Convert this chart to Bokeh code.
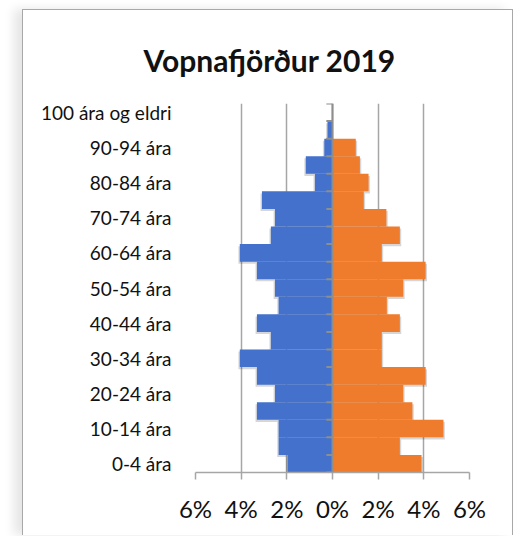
from bokeh.plotting import figure
from bokeh.models import Range1d, FixedTicker, Span, ColumnDataSource
from bokeh.embed import file_html
from bokeh.resources import INLINE

categories = ["0-4 ára", "5-9 ára", "10-14 ára", "15-19 ára", "20-24 ára", "25-29 ára",
              "30-34 ára", "35-39 ára", "40-44 ára", "45-49 ára", "50-54 ára", "55-59 ára",
              "60-64 ára", "65-69 ára", "70-74 ára", "75-79 ára", "80-84 ára", "85-89 ára",
              "90-94 ára", "95-99 ára", "100 ára og eldri"]
karlar = [1.97, 2.36, 2.36, 3.31, 2.52, 3.31, 4.06, 2.70, 3.31, 2.36, 2.52, 3.31,
          4.06, 2.70, 2.52, 3.09, 0.77, 1.17, 0.36, 0.22, 0.0]
konur = [3.90, 2.95, 4.86, 3.50, 3.10, 4.08, 2.16, 2.16, 2.95, 2.38, 3.10, 4.08,
         2.16, 2.95, 2.36, 1.37, 1.58, 1.20, 1.02, 0.0, 0.0]
x_ticks = [-6, -4, -2, 0, 2, 4, 6]
x_tick_labels = ["6%", "4%", "2%", "0%", "2%", "4%", "6%"]
title_text = "Vopnafjörður 2019"

FONT = "Lato"
BLUE = "#4371CB"
ORANGE = "#EF7B2C"
GRID = "#A6A6A6"

n = len(categories)
idx = list(range(n))

p = figure(width=491, height=526, output_backend="svg", toolbar_location=None,
           x_range=Range1d(-6, 6), y_range=Range1d(-0.5, n - 0.5),
           min_border_left=172, min_border_right=45, min_border_top=93, min_border_bottom=64,
           title=title_text)
p.margin = (9, 0, 0, 22)
p.styles = {"border-top": "1px solid #A8A8A8", "border-left": "1px solid #A8A8A8",
            "border-right": "1px solid #A8A8A8",
            "box-shadow": "-8px 0px 10px rgba(0,0,0,0.10)"}
p.outline_line_color = None
p.background_fill_color = "white"
p.border_fill_color = "white"

p.title.text_font = FONT
p.title.text_font_style = "bold"
p.title.text_font_size = "30px"
p.title.text_color = "#111111"
p.title.align = "left"
p.title.offset = -52
p.title.standoff = 52

src = ColumnDataSource(dict(y=idx, m_left=[-v for v in karlar], f_right=konur,
                            ys=[i - 0.12 for i in idx],
                            ms_left=[-v - 0.06 if v > 0 else 0 for v in karlar],
                            fs_right=[v + 0.06 if v > 0 else 0 for v in konur]))

# soft shadows
p.hbar(y="ys", left="ms_left", right=0, height=1.0, source=src,
       fill_color="#000000", fill_alpha=0.16, line_color=None)
p.hbar(y="ys", left=0, right="fs_right", height=1.0, source=src,
       fill_color="#000000", fill_alpha=0.16, line_color=None)

p.hbar(y="y", left="m_left", right=0, height=1.0, source=src,
       fill_color=BLUE, line_color=None)
p.hbar(y="y", left=0, right="f_right", height=1.0, source=src,
       fill_color=ORANGE, line_color=None)

# zero line and category boundary ticks
p.add_layout(Span(location=0, dimension="height", line_color="#8E8E8E", line_width=2))
bounds = [i - 0.5 for i in range(n + 1)]
p.segment(x0=[-0.27] * len(bounds), x1=[0] * len(bounds), y0=bounds, y1=bounds,
          line_color="#8E8E8E", line_width=2)

# x axis
p.xaxis.ticker = FixedTicker(ticks=x_ticks)
p.xaxis.major_label_overrides = {t: l for t, l in zip(x_ticks, x_tick_labels)}
p.xaxis.major_label_text_font = FONT
p.xaxis.major_label_text_font_size = "24px"
p.xaxis.major_label_text_color = "#111111"
p.xaxis.axis_line_color = GRID
p.xaxis.axis_line_width = 1.5
p.xaxis.major_tick_line_color = GRID
p.xaxis.major_tick_line_width = 1.5
p.xaxis.major_tick_in = 0
p.xaxis.major_tick_out = 7
p.xaxis.minor_tick_line_color = None
p.xaxis.major_label_standoff = 14

# y axis (category labels)
p.yaxis.ticker = FixedTicker(ticks=idx[::2])
p.yaxis.major_label_overrides = {i: categories[i] for i in idx[::2]}
p.yaxis.major_label_text_font = FONT
p.yaxis.major_label_text_font_size = "19px"
p.yaxis.major_label_text_color = "#111111"
p.yaxis.axis_line_color = None
p.yaxis.major_tick_line_color = None
p.yaxis.minor_tick_line_color = None
p.yaxis.major_label_standoff = 18

p.xgrid.ticker = FixedTicker(ticks=x_ticks)
p.xgrid.grid_line_color = GRID
p.xgrid.grid_line_width = 1.5
p.ygrid.grid_line_color = None

open("out.html", "w").write(file_html(p, INLINE))
